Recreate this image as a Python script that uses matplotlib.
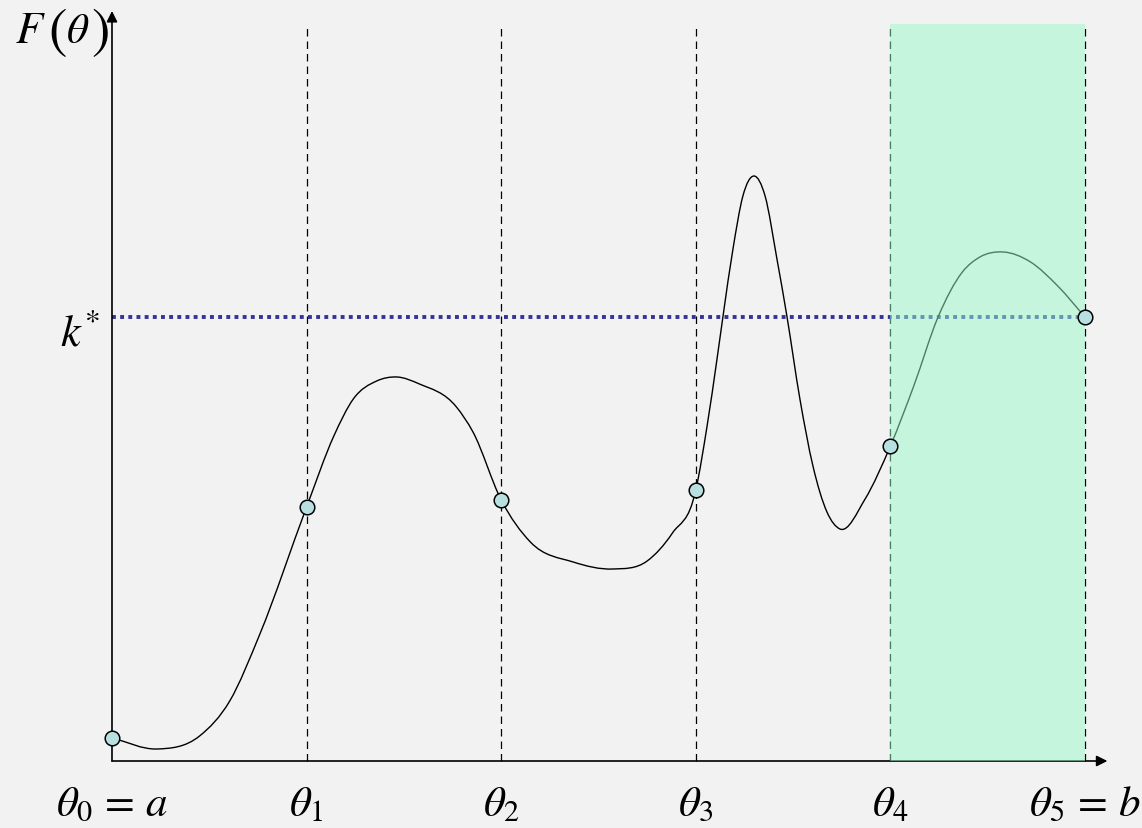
# Recreate the "F(theta) partition" sketch: curve over theta_0..theta_5,
# threshold k*, last sub-interval highlighted in green.

import numpy as np
import matplotlib.pyplot as plt
from matplotlib.path import Path
from matplotlib.patches import PathPatch, Rectangle

plt.rcParams['mathtext.fontset'] = 'stix'

# --- Data (x in theta-steps, y in F units) ---
theta_knots = [0, 1, 2, 3, 4, 5]
F_knots     = [0.23, 2.54, 2.61, 2.71, 3.15, 4.44]
k_star      = 4.44
highlight   = (4, 5)   # theta_4 .. theta_5
x_labels    = [r'$\theta_0\,=\,a$', r'$\theta_1$', r'$\theta_2$',
               r'$\theta_3$', r'$\theta_4$', r'$\theta_5\,=\,b$']

curve_x = [0.00, 0.23, 0.45, 0.605, 0.76, 1.00,
           1.14, 1.24, 1.36, 1.465, 1.58, 1.77, 1.855, 2.00,
           2.15, 2.37, 2.575, 2.75, 2.88, 3.00,
           3.058, 3.109, 3.14, 3.191, 3.242, 3.299, 3.356, 3.417, 3.468,
           3.535, 3.602, 3.674, 3.741, 3.87, 4.00,
           4.12, 4.245, 4.37, 4.46, 4.58, 4.72, 4.86, 5.00]
curve_F = [0.23, 0.12, 0.25, 0.60, 1.27, 2.54,
           3.25, 3.62, 3.80, 3.84, 3.77, 3.54, 3.29, 2.61,
           2.19, 1.99, 1.92, 2.00, 2.28, 2.71,
           3.35, 4.02, 4.45, 5.12, 5.65, 5.85, 5.65, 5.02, 4.45,
           3.62, 2.95, 2.49, 2.32, 2.62, 3.15,
           3.75, 4.44, 4.89, 5.04, 5.09, 4.99, 4.75, 4.44]

y_top = 7.37


def smooth_path(xs, ys):
    """Cubic Hermite through the read points (slopes from neighbours),
    handed to matplotlib as Bezier segments."""
    x = np.asarray(xs, float)
    y = np.asarray(ys, float)
    h = np.diff(x)
    d = np.diff(y) / h
    m = np.empty_like(y)
    m[0], m[-1] = d[0], d[-1]
    m[1:-1] = (d[1:] * h[:-1] + d[:-1] * h[1:]) / (h[:-1] + h[1:])
    verts = [(x[0], y[0])]
    codes = [Path.MOVETO]
    for i in range(len(x) - 1):
        verts += [(x[i] + h[i] / 3, y[i] + m[i] * h[i] / 3),
                  (x[i + 1] - h[i] / 3, y[i + 1] - m[i + 1] * h[i] / 3),
                  (x[i + 1], y[i + 1])]
        codes += [Path.CURVE4] * 3
    return Path(verts, codes)


fig = plt.figure(figsize=(11.42, 8.29), dpi=100, facecolor='#f2f2f2')
ax = fig.add_axes([0, 0, 1, 1])
ax.set_facecolor('#f2f2f2')
ax.set_xlim(-0.5755, 5.2929)
ax.set_ylim(-0.67, 7.62)
ax.axis('off')

# vertical dashed guides
for t in theta_knots[1:]:
    ax.plot([t, t], [0, y_top], color='black', lw=0.9,
            linestyle=(0, (6, 4)), zorder=2)

# threshold k*
ax.plot([theta_knots[0], theta_knots[-1]], [k_star, k_star], color='#333399',
        lw=2.8, linestyle=(0, (1.0, 1.1)), zorder=2)

# the curve
ax.add_patch(PathPatch(smooth_path(curve_x, curve_F), fill=False,
                       edgecolor='black', lw=1.0, zorder=3))

# axes with arrows
ax.annotate('', xy=(0, 7.50), xytext=(0, 0),
            arrowprops=dict(arrowstyle='-|>', color='black', lw=1.2,
                            mutation_scale=16, shrinkA=0, shrinkB=0), zorder=4)
ax.annotate('', xy=(5.115, 0), xytext=(0, 0),
            arrowprops=dict(arrowstyle='-|>', color='black', lw=1.2,
                            mutation_scale=16, shrinkA=0, shrinkB=0), zorder=4)

# highlighted interval (semi-transparent, tints what is below it)
ax.add_patch(Rectangle((highlight[0], 0), highlight[1] - highlight[0], y_top,
                       facecolor='#9af8ca', edgecolor='none', alpha=0.5, zorder=5))

# knot markers
ax.plot(theta_knots, F_knots, 'o', ms=10.5, mfc='#b8e0e0', mec='black',
        mew=1.1, zorder=6, clip_on=False)

# labels
for t, lab in zip(theta_knots, x_labels):
    ax.text(t, -0.54, lab, fontsize=31, ha='center', va='baseline')
ax.text(-0.06, 4.17, r'$k^{*}$', fontsize=32, ha='right', va='baseline')

# F(theta) with tall brackets, built from pieces
ax.text(-0.50, 7.19, r'$F$', fontsize=32, ha='left', va='baseline')
ax.text(-0.325, 7.15, '(', fontsize=40, family='STIXGeneral',
        ha='left', va='baseline')
ax.text(-0.235, 7.19, r'$\theta$', fontsize=31, ha='left', va='baseline')
ax.text(-0.105, 7.15, ')', fontsize=40, family='STIXGeneral',
        ha='left', va='baseline')

plt.savefig('out.png', dpi=100, facecolor=fig.get_facecolor())
